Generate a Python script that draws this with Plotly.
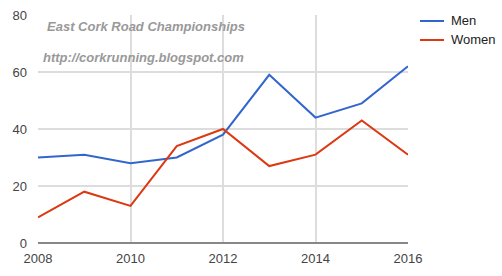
import plotly.graph_objects as go

years = [2008, 2009, 2010, 2011, 2012, 2013, 2014, 2015, 2016]
men = [30, 31, 28, 30, 38, 59, 44, 49, 62]
women = [9, 18, 13, 34, 40, 27, 31, 43, 31]
series_names = ["Men", "Women"]
series_colors = ["#3366cc", "#dc3912"]
x_ticks = [2008, 2010, 2012, 2014, 2016]
y_ticks = [0, 20, 40, 60, 80]

FONT = "Liberation Sans, Arial, sans-serif"

fig = go.Figure()
for name, vals, col in zip(series_names, [men, women], series_colors):
    fig.add_trace(go.Scatter(x=years, y=vals, mode="lines", name=name,
                             line=dict(color=col, width=2), showlegend=False))

# manual legend (paper coordinates)
legend_y = [0.9737, 0.8904]
shapes = []
annotations = []
for name, col, ly in zip(series_names, series_colors, legend_y):
    shapes.append(dict(type="line", xref="paper", yref="paper",
                       x0=1.0324, x1=1.0973, y0=ly, y1=ly,
                       line=dict(color=col, width=2)))
    annotations.append(dict(text=name, xref="paper", yref="paper",
                            x=1.111, y=ly, xanchor="left", yanchor="middle",
                            showarrow=False,
                            font=dict(family=FONT, size=13, color="#222222")))

annotations += [
    dict(text="<b><i>East Cork Road Championships</i></b>",
         xref="paper", yref="paper", x=0.02, y=0.95,
         xanchor="left", yanchor="middle", showarrow=False,
         font=dict(family=FONT, size=13, color="#999999")),
    dict(text="<b><i>http://corkrunning.blogspot.com</i></b>",
         xref="paper", yref="paper", x=0.007, y=0.815,
         xanchor="left", yanchor="middle", showarrow=False,
         font=dict(family=FONT, size=13, color="#999999")),
]

fig.update_layout(
    width=502, height=276,
    margin=dict(l=38, r=94, t=15, b=33, autoexpand=False),
    paper_bgcolor="white", plot_bgcolor="white",
    font=dict(family=FONT, size=13, color="#444444"),
    showlegend=False,
    xaxis=dict(range=[2008, 2016], tickvals=x_ticks,
               ticktext=[str(v) for v in x_ticks],
               showgrid=True, gridcolor="#dddddd", gridwidth=2,
               zeroline=False, showline=False, ticks="",
               ticklabelstandoff=6,
               tickfont=dict(family=FONT, size=13, color="#444444")),
    yaxis=dict(range=[0, 80], tickvals=y_ticks,
               showgrid=True, gridcolor="#dddddd", gridwidth=2,
               zeroline=True, zerolinecolor="#888888", zerolinewidth=2,
               showline=False, ticks="",
               ticklabelstandoff=10,
               tickfont=dict(family=FONT, size=13, color="#444444")),
    shapes=shapes,
    annotations=annotations,
)

fig.write_html("out.html")
